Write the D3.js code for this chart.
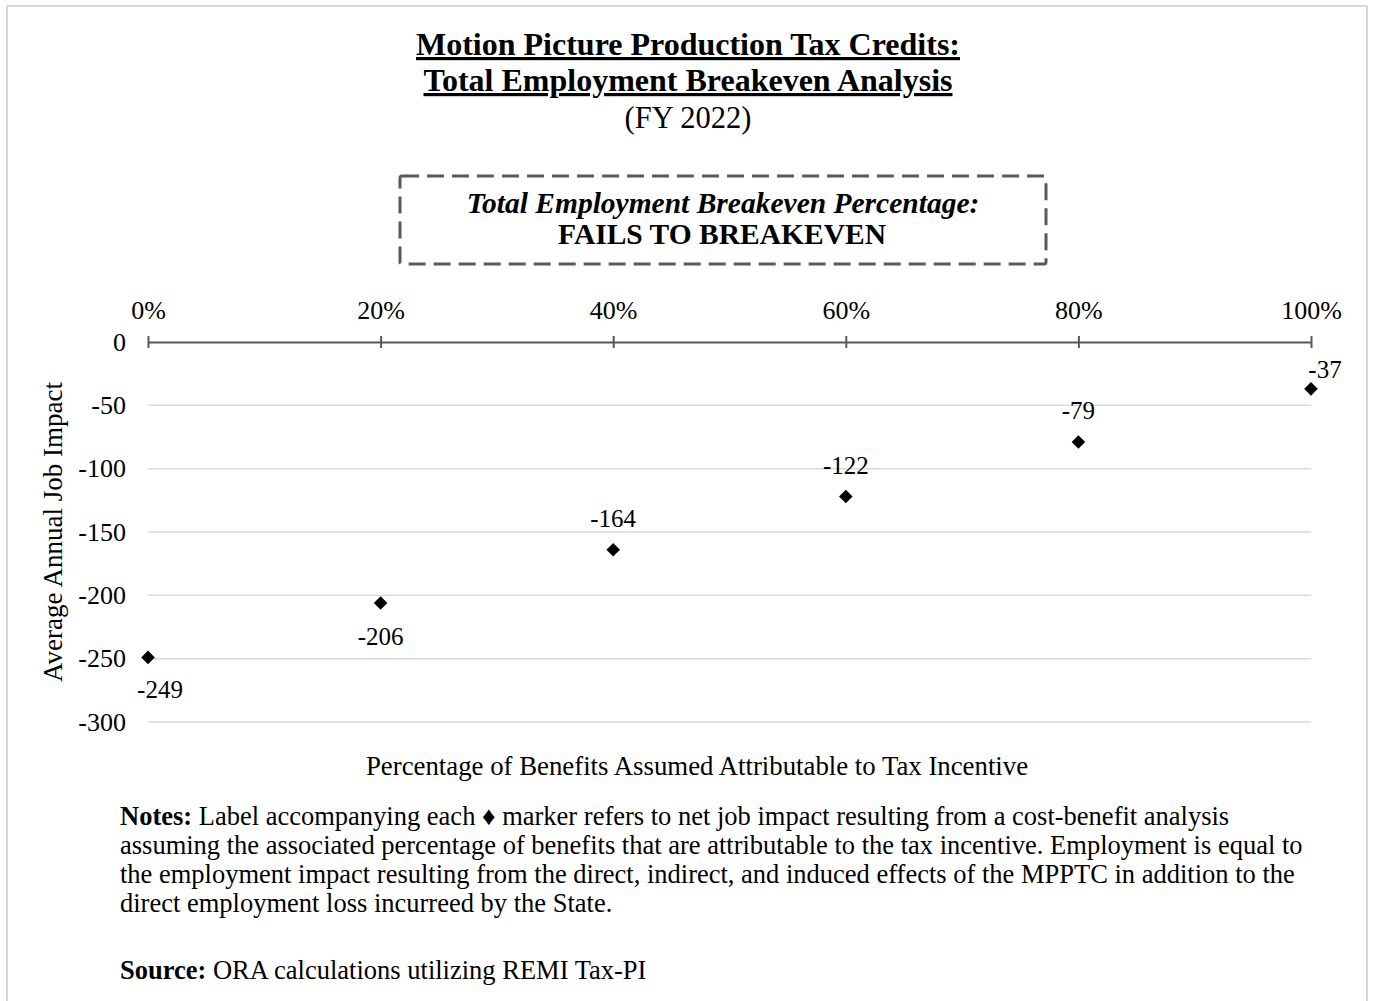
<!DOCTYPE html>
<html>
<head>
<meta charset="utf-8">
<script src="https://cdn.jsdelivr.net/npm/d3@7"></script>
<style>
  body { margin: 0; background: #fff; }
  text { font-family: "Liberation Serif", "Times New Roman", serif; fill: #000; }
</style>
</head>
<body>
<div class="chart"></div>
<script>
// datos del grafico
var porcentajes = [0, 0.2, 0.4, 0.6, 0.8, 1.0];
var impactoEmpleo = [-249, -206, -164, -122, -79, -37];
var ticksY = [0, -50, -100, -150, -200, -250, -300];
var ticksX = [0, 0.2, 0.4, 0.6, 0.8, 1.0];

var titulo = ["Motion Picture Production Tax Credits:", "Total Employment Breakeven Analysis"];
var subtitulo = "(FY 2022)";
var cajaLinea1 = "Total Employment Breakeven Percentage:";
var cajaLinea2 = "FAILS TO BREAKEVEN";
var tituloX = "Percentage of Benefits Assumed Attributable to Tax Incentive";
var tituloY = "Average Annual Job Impact";
var notas = [
  "Label accompanying each \u2666 marker refers to net job impact resulting from a cost-benefit analysis",
  "assuming the associated percentage of benefits that are attributable to the tax incentive. Employment is equal to",
  "the employment impact resulting from the direct, indirect, and induced effects of the MPPTC in addition to the",
  "direct employment loss incurreed by the State."
];
var fuente = "ORA calculations utilizing REMI Tax-PI";

var ancho = 1373, alto = 1001;
var serif = "'Liberation Serif', 'Times New Roman', serif";

var svg = d3.select(".chart").append("svg")
    .attr("width", ancho)
    .attr("height", alto);

// marco exterior
svg.append("rect")
    .attr("x", 7).attr("y", 6)
    .attr("width", 1360).attr("height", 1010)
    .attr("fill", "none")
    .attr("stroke", "#d9d9d9")
    .attr("stroke-width", 2);

// titulo
var lineasTitulo = [55, 91];
titulo.forEach(function(t, i) {
    svg.append("text")
        .attr("x", 688)
        .attr("y", lineasTitulo[i])
        .attr("text-anchor", "middle")
        .style("font-size", "32px")
        .style("font-weight", "bold")
        .style("text-decoration", "underline")
        .text(t);
});
svg.append("text")
    .attr("x", 688)
    .attr("y", 128)
    .attr("text-anchor", "middle")
    .style("font-size", "30.5px")
    .text(subtitulo);

// caja discontinua
svg.append("rect")
    .attr("x", 400).attr("y", 176)
    .attr("width", 646).attr("height", 88)
    .attr("rx", 2)
    .attr("fill", "none")
    .attr("stroke", "#595959")
    .attr("stroke-width", 3)
    .attr("stroke-dasharray", "17,8");

svg.append("text")
    .attr("x", 723).attr("y", 213)
    .attr("text-anchor", "middle")
    .style("font-size", "29.5px")
    .style("font-weight", "bold")
    .style("font-style", "italic")
    .text(cajaLinea1);
svg.append("text")
    .attr("x", 722).attr("y", 244)
    .attr("text-anchor", "middle")
    .style("font-size", "29.5px")
    .style("font-weight", "bold")
    .text(cajaLinea2);

// escalas
var x = d3.scaleLinear().domain([0, 1]).range([148, 1311]);
var y = d3.scaleLinear().domain([-300, 0]).range([722, 342]);

// lineas de cuadricula
svg.append("g")
    .selectAll("line")
    .data(ticksY.filter(function(d) { return d !== 0; }))
    .enter().append("line")
    .attr("x1", x(0)).attr("x2", x(1))
    .attr("y1", function(d) { return y(d); })
    .attr("y2", function(d) { return y(d); })
    .attr("stroke", "#d9d9d9")
    .attr("stroke-width", 1.5);

// eje Y (solo etiquetas)
var ejeY = svg.append("g")
    .attr("transform", "translate(" + x(0) + ",0)")
    .call(d3.axisLeft(y).tickValues(ticksY).tickSize(0).tickPadding(22).tickFormat(d3.format("d")));
ejeY.select(".domain").remove();
ejeY.selectAll("text")
    .style("font-size", "26px")
    .style("font-family", serif)
    .text(function(d) { return d < 0 ? "-" + Math.abs(d) : d; });

// eje X en y=0, ticks que cruzan
var ejeX = svg.append("g")
    .attr("transform", "translate(0," + y(0) + ")")
    .call(d3.axisTop(x).tickValues(ticksX).tickSizeInner(6).tickSizeOuter(0).tickPadding(17).tickFormat(d3.format(".0%")));
ejeX.select(".domain").attr("stroke", "#595959").attr("stroke-width", 2);
ejeX.selectAll(".tick line")
    .attr("stroke", "#595959")
    .attr("stroke-width", 2)
    .attr("y1", 6);
ejeX.selectAll("text")
    .style("font-size", "26px")
    .style("font-family", serif);

// puntos (rombos)
var datos = porcentajes.map(function(p, i) { return { p: p, v: impactoEmpleo[i] }; });
var simbolo = d3.symbol().type(d3.symbolSquare).size(92);

svg.append("g")
    .selectAll("path")
    .data(datos)
    .enter().append("path")
    .attr("d", simbolo)
    .attr("transform", function(d) { return "translate(" + x(d.p) + "," + y(d.v) + ") rotate(45)"; })
    .attr("fill", "#000");

// etiquetas de datos
var desplazamientos = [[12, 41], [0, 42], [0, -23], [0, -23], [0, -23], [14, -11]];
svg.append("g")
    .selectAll("text")
    .data(datos)
    .enter().append("text")
    .attr("x", function(d, i) { return x(d.p) + desplazamientos[i][0]; })
    .attr("y", function(d, i) { return y(d.v) + desplazamientos[i][1]; })
    .attr("text-anchor", "middle")
    .style("font-size", "25px")
    .text(function(d) { return d.v; });

// titulos de ejes
svg.append("text")
    .attr("x", 697).attr("y", 775)
    .attr("text-anchor", "middle")
    .style("font-size", "26.8px")
    .text(tituloX);

svg.append("text")
    .attr("transform", "translate(62,532) rotate(-90)")
    .attr("text-anchor", "middle")
    .style("font-size", "27px")
    .text(tituloY);

// notas
var notasTexto = svg.append("text")
    .attr("x", 120).attr("y", 825)
    .style("font-size", "26.5px");
notas.forEach(function(l, i) {
    var ts = notasTexto.append("tspan").attr("x", 120).attr("dy", i === 0 ? 0 : 29);
    if (i === 0) {
        ts.append("tspan").style("font-weight", "bold").text("Notes:");
        ts.append("tspan").text(" " + l);
    } else {
        ts.text(l);
    }
});

var fuenteTexto = svg.append("text")
    .attr("x", 120).attr("y", 979)
    .style("font-size", "26.5px");
fuenteTexto.append("tspan").style("font-weight", "bold").text("Source:");
fuenteTexto.append("tspan").text(" " + fuente);
</script>
</body>
</html>
